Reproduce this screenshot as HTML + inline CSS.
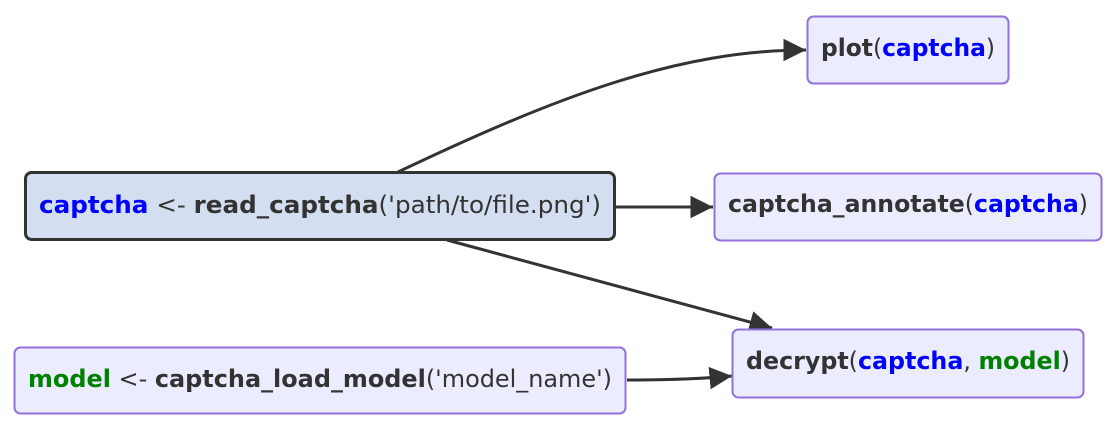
<!DOCTYPE html>
<html><head><meta charset="utf-8"><style>
html,body{margin:0;padding:0;background:#fff;width:1116px;height:433px;overflow:hidden}
svg text{font-family:"DejaVu Sans","Liberation Sans",sans-serif;font-size:24px;fill:#333}
.b{font-weight:bold}.bl{fill:#0000ff;font-weight:bold}.gr{fill:#008000;font-weight:bold}
</style></head><body>
<svg width="1116" height="433" viewBox="0 0 1116 433" xmlns="http://www.w3.org/2000/svg">
<defs><marker id="a" viewBox="0 0 10 10" refX="10" refY="5" markerWidth="7.5" markerHeight="7.5" markerUnits="strokeWidth" orient="auto"><path d="M0,0L10,5L0,10z" fill="#333"/></marker></defs>
<g fill="none" stroke="#333" stroke-width="3">
<path d="M398,172 C560,95 680,50 806,50" marker-end="url(#a)"/>
<path d="M615,207 L713,207" marker-end="url(#a)"/>
<path d="M447,240 L772,328" marker-end="url(#a)"/>
<path d="M627,380 C670,380 700,379 732,376" marker-end="url(#a)"/>
</g>
<rect x="25.5" y="172.5" width="589" height="67" rx="6" fill="#d3dff0" stroke="#333" stroke-width="3"/>
<rect x="14.5" y="347.5" width="611" height="66" rx="6" fill="#ececff" stroke="#9370db" stroke-width="2"/>
<rect x="807.5" y="16.5" width="201" height="67" rx="6" fill="#ececff" stroke="#9370db" stroke-width="2"/>
<rect x="714.5" y="173.5" width="387" height="67" rx="6" fill="#ececff" stroke="#9370db" stroke-width="2"/>
<rect x="732.5" y="329.5" width="351" height="68" rx="6" fill="#ececff" stroke="#9370db" stroke-width="2"/>
<text x="39" y="213" textLength="562" lengthAdjust="spacingAndGlyphs"><tspan class="bl">captcha</tspan> &lt;- <tspan class="b">read_captcha</tspan>('path/to/file.png')</text>
<text x="28" y="387" textLength="584" lengthAdjust="spacingAndGlyphs"><tspan class="gr">model</tspan> &lt;- <tspan class="b">captcha_load_model</tspan>('model_name')</text>
<text x="821" y="56" textLength="174" lengthAdjust="spacingAndGlyphs"><tspan class="b">plot</tspan>(<tspan class="bl">captcha</tspan>)</text>
<text x="728" y="212" textLength="360" lengthAdjust="spacingAndGlyphs"><tspan class="b">captcha_annotate</tspan>(<tspan class="bl">captcha</tspan>)</text>
<text x="746" y="369" textLength="324" lengthAdjust="spacingAndGlyphs"><tspan class="b">decrypt</tspan>(<tspan class="bl">captcha</tspan>, <tspan class="gr">model</tspan>)</text>
</svg>
</body></html>
